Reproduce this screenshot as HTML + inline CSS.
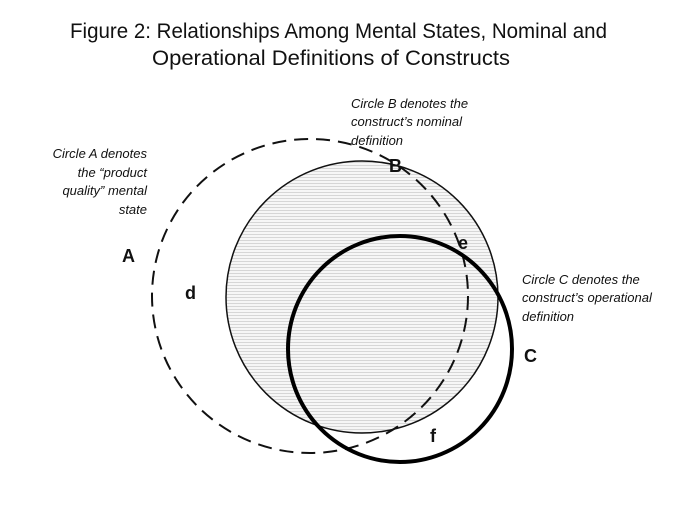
<!DOCTYPE html>
<html><head><meta charset="utf-8"><style>
html,body{margin:0;padding:0;background:#fff;}
svg{display:block;}
text{font-family:"Liberation Sans",sans-serif;fill:#111;}
.t{font-size:21px;}
.i{font-size:13px;font-style:italic;}
.b{font-size:18px;font-weight:bold;}
</style></head><body>
<svg width="690" height="518" viewBox="0 0 690 518" xmlns="http://www.w3.org/2000/svg">
<defs>
<pattern id="h" width="4" height="3" patternUnits="userSpaceOnUse">
<rect width="4" height="3" fill="#f6f6f6"/>
<rect y="0" width="4" height="1" fill="#d6d6d6"/>
</pattern>
</defs>
<text class="t" x="70" y="38" textLength="537" lengthAdjust="spacingAndGlyphs">Figure 2: Relationships Among Mental States, Nominal and</text>
<text class="t" x="152" y="65" textLength="358" lengthAdjust="spacingAndGlyphs">Operational Definitions of Constructs</text>

<text class="i" x="351" y="108">Circle B denotes the</text>
<text class="i" x="351" y="126">construct’s nominal</text>
<text class="i" x="351" y="145">definition</text>

<text class="i" x="147" y="158" text-anchor="end">Circle A denotes</text>
<text class="i" x="147" y="177" text-anchor="end">the “product</text>
<text class="i" x="147" y="195" text-anchor="end">quality” mental</text>
<text class="i" x="147" y="214" text-anchor="end">state</text>

<text class="i" x="522" y="284">Circle C denotes the</text>
<text class="i" x="522" y="302">construct’s operational</text>
<text class="i" x="522" y="321">definition</text>

<circle cx="362" cy="297" r="136" fill="url(#h)" stroke="#111" stroke-width="1.5"/>
<ellipse cx="310" cy="296" rx="158" ry="157" fill="none" stroke="#111" stroke-width="2" stroke-dasharray="14,8"/>
<ellipse cx="400" cy="349" rx="112" ry="113" fill="none" stroke="#000" stroke-width="4"/>

<text class="b" x="122" y="262">A</text>
<text class="b" x="389" y="172">B</text>
<text class="b" x="185" y="299">d</text>
<text class="b" x="458" y="249">e</text>
<text class="b" x="524" y="362">C</text>
<text class="b" x="430" y="442">f</text>
</svg>
</body></html>
